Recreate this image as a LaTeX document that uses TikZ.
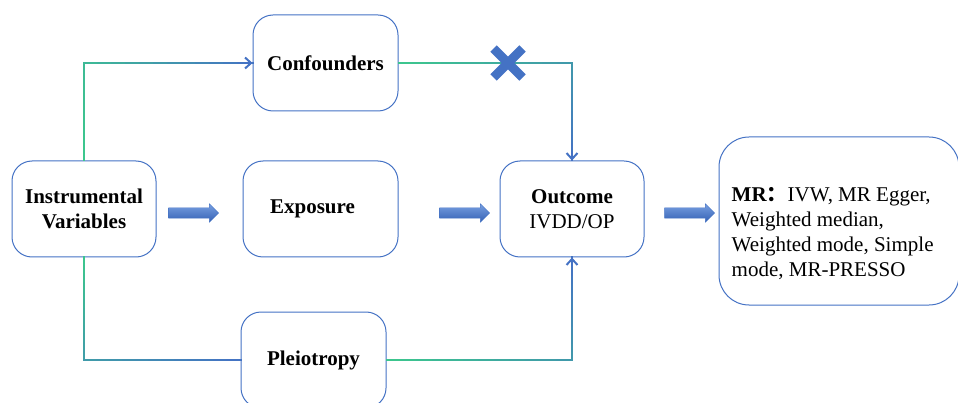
\documentclass[tikz,border=0pt]{standalone}
\usepackage{fontspec}
\setmainfont{Liberation Serif}
\newfontfamily\cjk{Noto Sans CJK SC}
\usepackage{tikz}
\usetikzlibrary{positioning, calc, arrows.meta, shapes.misc, shapes.arrows}

\definecolor{wiregreen}{RGB}{60,200,140}
\definecolor{wireblue}{RGB}{68,114,196}
\definecolor{fatlight}{RGB}{120,160,225}
\definecolor{fatdark}{RGB}{52,96,180}

% one straight leg of a connector, fading from #3 to #4 percent green
\newcommand{\fadeleg}[4]{%
  \foreach \k in {1,...,12}{%
    \pgfmathtruncatemacro{\pc}{#3+(#4-#3)*(\k-0.5)/12}%
    \draw[wire, draw=wiregreen!\pc!wireblue] ($(#1)!{(\k-1)/12}!(#2)$) -- ($(#1)!{\k/12}!(#2)$);
  }%
}

\begin{document}
\begin{tikzpicture}
        [x=1pt, y=-1pt,
         box/.style={draw=wireblue, line width=1pt, rounded corners=20pt, inner sep=0pt,
                     minimum width=145pt, minimum height=96pt, align=center,
                     font=\fontsize{21}{25}\selectfont\bfseries},
         wire/.style={line width=2pt, line cap=rect},
         tip/.style={wireblue, line width=2pt, -{Straight Barb[length=6pt, width=11pt]}},
         fatarrow/.style={single arrow, draw=wireblue, line width=0.4pt, top color=fatlight,
                          bottom color=fatdark, minimum height=50pt, inner xsep=0pt,
                          inner ysep=5pt, single arrow head extend=4pt},
         nomark/.style={cross out, draw=wireblue, line width=9pt, minimum size=20pt, inner sep=0pt}]
        \useasboundingbox (0,0) rectangle (958,403);

        \node[box, minimum width=144pt] (iv) at (84,209) {Instrumental\\Variables};
        \node[box] (conf) at (325.5,63) {Confounders};
        \node[box, minimum width=155pt] (expo) at (320.5,209) {Exposure\hspace*{16pt}};
        \node[box, minimum width=144pt] (outc) at (572,209) {Outcome\\{\mdseries IVDD/OP}};
        \node[box] (pleio) at (313.5,360) {Pleiotropy};
        \node[box, rounded corners=30pt, minimum width=240pt, minimum height=168pt] (mr) at (839,221) {};
        \node[anchor=west, align=left, inner sep=0pt, font=\fontsize{21}{25}\selectfont]
            (mrtxt) at ([xshift=13pt, yshift=-12.5pt]mr.west)
            {\textbf{MR\cjk{：}}IVW, MR Egger,\\Weighted median,\\Weighted mode, Simple\\mode, MR-PRESSO};

        \coordinate (c1) at (iv.north |- conf.west);
        \coordinate (c2) at (outc.north |- conf.east);
        \coordinate (c3) at (iv.south |- pleio.west);
        \coordinate (c4) at (outc.south |- pleio.east);

        \fadeleg{iv.north}{c1}{100}{85}
        \fadeleg{c1}{conf.west}{85}{0}
        \draw[tip] ($(conf.west)+(-8,0)$) -- (conf.west);

        \fadeleg{conf.east}{c2}{100}{45}
        \fadeleg{c2}{outc.north}{45}{0}
        \draw[tip] ($(outc.north)+(0,-8)$) -- (outc.north);

        \fadeleg{iv.south}{c3}{100}{50}
        \fadeleg{c3}{pleio.west}{50}{0}

        \fadeleg{pleio.east}{c4}{100}{45}
        \fadeleg{c4}{outc.south}{45}{0}
        \draw[tip] ($(outc.south)+(0,8)$) -- (outc.south);

        \node[nomark] (x) at (508,63) {};

        \node[fatarrow] (a1) at (191,213) {};
        \node[fatarrow] (a2) at (462,213) {};
        \node[fatarrow] (a3) at (687,213) {};
    \end{tikzpicture}
\end{document}
